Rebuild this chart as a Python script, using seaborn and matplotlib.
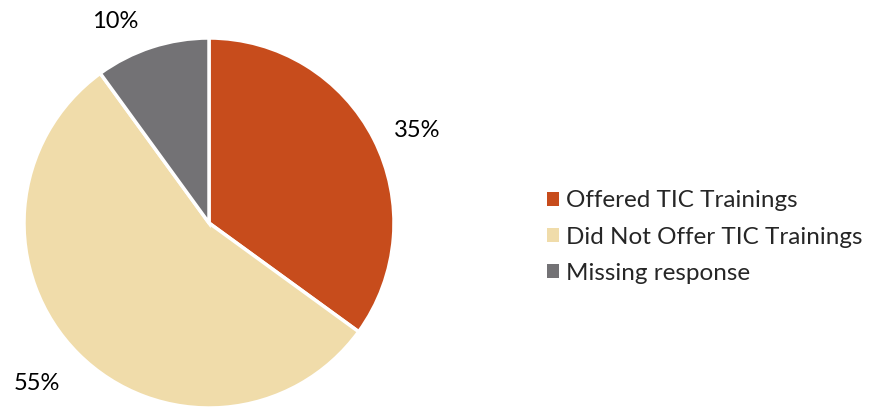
import numpy as np
import seaborn as sns
import matplotlib.pyplot as plt
from matplotlib.patches import Patch

labels = ['Offered TIC Trainings', 'Did Not Offer TIC Trainings', 'Missing response']
values = [35, 55, 10]
colors = ['#C74C1C', '#F0DCAA', '#737275']

sns.set_style('white')
plt.rcParams['font.family'] = ['Lato', 'DejaVu Sans']

fig = plt.figure(figsize=(8.77, 4.07), dpi=100)
# pie centre ~ (209, 223) px, radius ~ 185 px
ax = fig.add_axes([24 / 877, (407 - 223 - 185) / 407, 370 / 877, 370 / 407])

wedges, texts, autotexts = ax.pie(
    values, colors=colors, startangle=90, counterclock=False,
    autopct='%.0f%%', pctdistance=1.24,
    wedgeprops=dict(edgecolor='white', linewidth=2.5),
    textprops=dict(fontsize=17, color='black'))

# nudge labels like Excel's best-fit placement (distance, angle shift in degrees)
nudges = [(1.23, -3), (1.27, -2), (1.2, 7)]
for w, t, (d, da) in zip(wedges, autotexts, nudges):
    ang = np.deg2rad((w.theta1 + w.theta2) / 2 + da)
    t.set_position((d * np.cos(ang), d * np.sin(ang)))

ax.set_xlim(-1, 1)
ax.set_ylim(-1, 1)
ax.set_aspect('equal')

handles = [Patch(facecolor=c, edgecolor='none') for c in colors]
fig.legend(handles, labels, loc='center left', bbox_to_anchor=(525 / 877, 1 - 237 / 407),
           frameon=False, fontsize=17.5, handlelength=0.5, handleheight=0.5,
           handletextpad=0.3, labelspacing=0.62)

fig.savefig('out.png', dpi=100)
